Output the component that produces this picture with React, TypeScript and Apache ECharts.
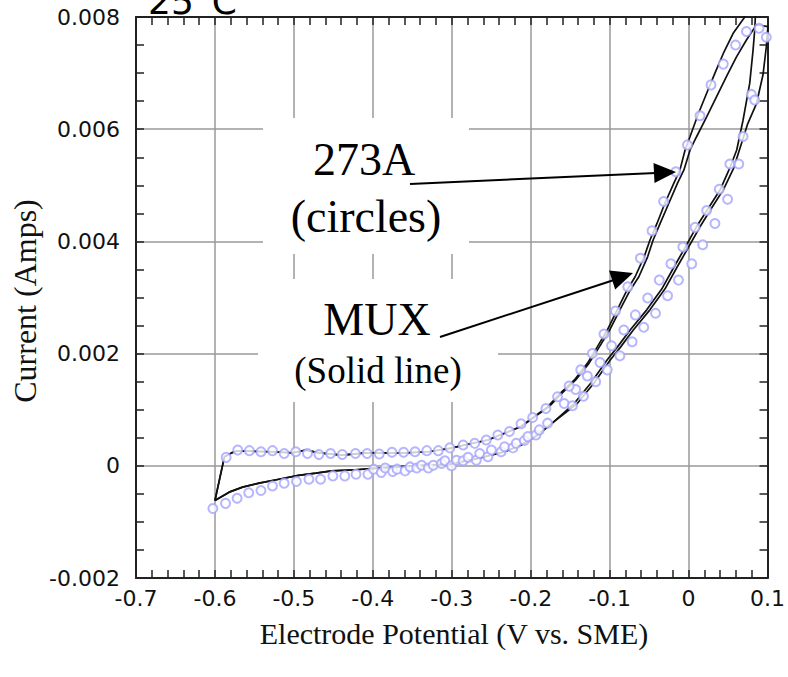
import React, { useEffect, useRef } from "react";
import * as echarts from "echarts";

// Axis extents and tick spacing
const xMin = -0.7;
const xMax = 0.1;
const xStep = 0.1;
const yMin = -0.002;
const yMax = 0.008;
const yStep = 0.002;

// MUX (solid line): potential (V vs. SME), current (A)
const muxForwardLow: number[][] = [
  [-0.6, -0.00062], [-0.582, -0.00047], [-0.565, -0.00038], [-0.544, -0.00031],
  [-0.519, -0.00024], [-0.494, -0.00017], [-0.472, -0.00013], [-0.452, -0.00009],
  [-0.422, -0.00007], [-0.393, -0.00004], [-0.351, 0.0], [-0.302, 0.00003],
  [-0.267, 0.00013], [-0.233, 0.00025], [-0.212, 0.00037], [-0.191, 0.00055],
  [-0.172, 0.00077],
];
const muxForwardHighA: number[][] = [
  [-0.145, 0.00111], [-0.124, 0.00147], [-0.103, 0.00189], [-0.09, 0.00212],
  [-0.074, 0.00242], [-0.053, 0.00278], [-0.034, 0.00315], [-0.019, 0.00353],
  [-0.004, 0.0039], [0.01, 0.00426], [0.025, 0.00459], [0.04, 0.00492],
  [0.052, 0.0053], [0.061, 0.00563], [0.069, 0.00616], [0.0775, 0.00682],
  [0.0817, 0.00741], [0.0838, 0.00777], [0.086, 0.0084],
];
const muxReverseHighA: number[][] = [
  [0.078, 0.0086], [0.0712, 0.008], [0.0565, 0.00771], [0.044, 0.00735],
  [0.0334, 0.007], [0.0229, 0.00664], [0.0125, 0.00628], [0.0019, 0.00587],
  [-0.0044, 0.00563], [-0.011, 0.00527], [-0.0186, 0.00504], [-0.03, 0.00468],
  [-0.04, 0.00432], [-0.049, 0.00402], [-0.0564, 0.00372], [-0.0677, 0.00337],
  [-0.078, 0.00313], [-0.0904, 0.00278], [-0.103, 0.00242], [-0.1156, 0.00212],
  [-0.128, 0.00183], [-0.1446, 0.00153], [-0.162, 0.0013], [-0.1786, 0.00105],
  [-0.1953, 0.00088],
];
const muxForwardHighB: number[][] = [
  [-0.141, 0.00111], [-0.12, 0.00147], [-0.099, 0.00189], [-0.086, 0.00212],
  [-0.07, 0.00242], [-0.049, 0.00278], [-0.03, 0.00315], [-0.015, 0.00353],
  [0.0, 0.0039], [0.0145, 0.00426], [0.029, 0.00459], [0.044, 0.00492],
  [0.057, 0.0053], [0.066, 0.0057], [0.075, 0.0061], [0.0859, 0.00645],
  [0.0943, 0.00697], [0.0985, 0.00747], [0.1005, 0.00783],
];
const muxReverseHighB: number[][] = [
  [0.0859, 0.00786], [0.0733, 0.00759], [0.0607, 0.00729], [0.0481, 0.00694],
  [0.0355, 0.00658], [0.0229, 0.00622], [0.0103, 0.00587], [0.0019, 0.00563],
  [-0.006, 0.00527], [-0.014, 0.00504], [-0.025, 0.00468], [-0.036, 0.00432],
  [-0.045, 0.00402], [-0.052, 0.00372], [-0.063, 0.00337], [-0.074, 0.00313],
  [-0.087, 0.00278], [-0.1, 0.00242], [-0.113, 0.00212], [-0.126, 0.00183],
  [-0.143, 0.00153], [-0.16, 0.0013], [-0.177, 0.00105], [-0.194, 0.00088],
];
const muxReverseLow: number[][] = [
  [-0.2122, 0.0007], [-0.2331, 0.00058], [-0.2542, 0.00046], [-0.2835, 0.00037],
  [-0.3024, 0.00031], [-0.3297, 0.00025], [-0.3591, 0.00023], [-0.38, 0.00023],
  [-0.409, 0.00023], [-0.439, 0.00019], [-0.468, 0.00023], [-0.4846, 0.00028],
  [-0.502, 0.00023], [-0.527, 0.00025], [-0.556, 0.00026], [-0.573, 0.00026],
  [-0.579, 0.00023], [-0.588, 0.00016], [-0.6, -0.00062],
];

// 273A (circles)
const p273Reverse: number[][] = [
  [-0.5858, 0.00015], [-0.5711, 0.00028], [-0.5564, 0.00027], [-0.5417, 0.00025],
  [-0.5271, 0.00027], [-0.5123, 0.00022], [-0.4976, 0.00025], [-0.4828, 0.00022],
  [-0.4683, 0.0002], [-0.4535, 0.00022], [-0.4387, 0.0002], [-0.422, 0.00022],
  [-0.4072, 0.00022], [-0.3919, 0.00021], [-0.3757, 0.00024], [-0.361, 0.00024],
  [-0.3465, 0.00025], [-0.3316, 0.00027], [-0.3171, 0.00027], [-0.3024, 0.00032],
  [-0.2856, 0.00037], [-0.2709, 0.0004], [-0.2563, 0.00046], [-0.2416, 0.00055],
  [-0.2269, 0.00061], [-0.2122, 0.00075], [-0.1975, 0.00086], [-0.1807, 0.00102],
  [-0.166, 0.00123], [-0.1513, 0.00142], [-0.1366, 0.00171], [-0.1219, 0.002],
  [-0.1072, 0.00235], [-0.0926, 0.00276], [-0.077, 0.00319], [-0.061, 0.0037],
  [-0.0463, 0.00419], [-0.0316, 0.00471], [-0.0161, 0.00524], [-0.0014, 0.00572],
  [0.0145, 0.00624], [0.0284, 0.00679], [0.044, 0.00716], [0.0595, 0.0075],
  [0.0733, 0.00774], [0.0893, 0.0078], [0.0985, 0.00764],
];
const p273ForwardLow: number[][] = [
  [-0.6026, -0.00076], [-0.5866, -0.00067], [-0.5719, -0.00058], [-0.5572, -0.00048],
  [-0.5417, -0.00044], [-0.5271, -0.00036], [-0.5123, -0.00031], [-0.4968, -0.00028],
  [-0.4809, -0.00024], [-0.4662, -0.00024], [-0.4506, -0.00018], [-0.4355, -0.00018],
  [-0.4213, -0.00015], [-0.4062, -0.00015], [-0.399, -0.00006], [-0.3893, -0.00012],
  [-0.3843, -0.00004], [-0.3748, -0.0001], [-0.3693, -0.00006], [-0.3591, -0.00009],
  [-0.3528, -0.00002], [-0.3444, -0.00004], [-0.3382, 0.00001], [-0.3297, -0.00004],
  [-0.3234, 0.00001], [-0.3129, 0.00004], [-0.3087, 0.00009], [-0.3003, 0.0],
  [-0.294, 0.0001], [-0.2856, 0.00009], [-0.2793, 0.00015], [-0.2689, 0.0001],
  [-0.2646, 0.00022], [-0.2542, 0.00016], [-0.2498, 0.00028], [-0.2374, 0.00025],
  [-0.2331, 0.00034], [-0.2225, 0.00032], [-0.2183, 0.0004], [-0.2079, 0.00045],
  [-0.2035, 0.00052], [-0.1933, 0.00055], [-0.1891, 0.00064], [-0.1786, 0.00076],
];
const p273ForwardHigh: number[][] = [
  [-0.1576, 0.00111], [-0.143, 0.00136], [-0.1282, 0.0016], [-0.1122, 0.00184],
  [-0.0976, 0.00214], [-0.082, 0.00242], [-0.0674, 0.00269], [-0.0518, 0.00299],
  [-0.0371, 0.00331], [-0.0224, 0.0036], [-0.0073, 0.0039], [0.0082, 0.00425],
  [0.0229, 0.00455], [0.0389, 0.00493], [0.0523, 0.00538], [0.069, 0.00587],
  [0.0796, 0.00662],
];
const p273ForwardHighLate: number[][] = [
  [-0.1471, 0.00107], [-0.1332, 0.00124], [-0.1177, 0.0015], [-0.103, 0.00171],
  [-0.087, 0.00196], [-0.0715, 0.00221], [-0.0568, 0.00247], [-0.0419, 0.00272],
  [-0.0266, 0.00303], [-0.0128, 0.00331], [0.004, 0.0036], [0.0179, 0.00394],
  [0.0334, 0.00432], [0.0494, 0.00475], [0.0636, 0.00538], [0.0838, 0.00652],
];

const tickFont = "'DejaVu Sans', Verdana, sans-serif";
const serifFont = "'Liberation Serif', 'Times New Roman', Times, serif";
const frameColor = "#222";
const gridColor = "#9a9a9a";

function fmtX(v: number): string {
  const r = Math.round(v * 10) / 10;
  return Math.abs(r) < 1e-9 ? "0" : r.toFixed(1);
}
function fmtY(v: number): string {
  const r = Math.round(v * 1000) / 1000;
  return Math.abs(r) < 1e-9 ? "0" : r.toFixed(3);
}

function axisBase(isX: boolean, position: string, main: boolean) {
  return {
    type: "value",
    position,
    min: isX ? xMin : yMin,
    max: isX ? xMax : yMax,
    interval: isX ? xStep : yStep,
    axisLine: { show: true, onZero: false, lineStyle: { color: frameColor, width: 2 } },
    axisTick: { show: true, inside: true, length: 8, lineStyle: { color: frameColor, width: 1.5 } },
    minorTick: {
      show: true,
      splitNumber: isX ? 5 : 4,
      length: 8,
      lineStyle: { color: frameColor, width: 1.5 },
    },
    splitLine: { show: main, lineStyle: { color: gridColor, width: 1.5 } },
    minorSplitLine: { show: false },
    axisLabel: main
      ? {
          show: true,
          fontSize: 22,
          fontFamily: tickFont,
          color: "#111",
          margin: isX ? 9 : 16,
          formatter: isX ? fmtX : fmtY,
        }
      : { show: false },
  };
}

export default function App() {
  const ref = useRef<HTMLDivElement>(null);

  useEffect(() => {
    if (!ref.current) return;
    const chart = echarts.init(ref.current, undefined, { renderer: "svg" });

    const cycleA = [...muxForwardLow, ...muxForwardHighA, ...muxReverseHighA, ...muxReverseLow];
    const cycleB = [...muxForwardLow, ...muxForwardHighB, ...muxReverseHighB, ...muxReverseLow];
    const circles = [...p273ForwardLow, ...p273ForwardHigh, ...p273ForwardHighLate, ...p273Reverse];

    const lineSeries = (data: number[][]) => ({
      name: "MUX",
      type: "line",
      data,
      showSymbol: false,
      symbol: "none",
      clip: true,
      smooth: false,
      lineStyle: { color: "#111", width: 1.7 },
      z: 3,
    });

    const whiteBox = (x: number, y: number, w: number, h: number) => ({
      type: "rect",
      shape: { x, y, width: w, height: h },
      style: { fill: "#fff" },
      z: 40,
    });
    const label = (text: string, x: number, y: number, size: number, font: string) => ({
      type: "text",
      x,
      y,
      style: {
        text,
        font: `${size}px ${font}`,
        fill: "#000",
        align: "center",
        verticalAlign: "middle",
      },
      z: 45,
    });

    chart.setOption({
      animation: false,
      backgroundColor: "#fff",
      grid: { left: 136, right: 17, top: 17, bottom: 99, containLabel: false },
      xAxis: [axisBase(true, "bottom", true), axisBase(true, "top", false)],
      yAxis: [axisBase(false, "left", true), axisBase(false, "right", false)],
      series: [
        lineSeries(cycleA),
        lineSeries(cycleB),
        {
          name: "273A",
          type: "scatter",
          data: circles,
          symbol: "emptyCircle",
          symbolSize: 9,
          clip: true,
          itemStyle: { color: "#a4a4ff", borderColor: "#a4a4ff", borderWidth: 1.2 },
          z: 4,
        },
      ],
      graphic: [
        whiteBox(263, 118, 206, 136),
        whiteBox(258, 279, 240, 123),
        label("273A", 364, 159.5, 46, serifFont),
        label("(circles)", 366, 216.5, 46, serifFont),
        label("MUX", 377, 319.5, 46, serifFont),
        label("(Solid line)", 378, 370.5, 37, serifFont),
        {
          type: "line",
          shape: { x1: 410, y1: 184, x2: 656, y2: 173 },
          style: { stroke: "#000", lineWidth: 2 },
          z: 46,
        },
        {
          type: "polygon",
          shape: { points: [[676, 172], [654.5, 183], [653.5, 163]] },
          style: { fill: "#000" },
          z: 46,
        },
        {
          type: "line",
          shape: { x1: 440, y1: 337, x2: 614, y2: 280 },
          style: { stroke: "#000", lineWidth: 2 },
          z: 46,
        },
        {
          type: "polygon",
          shape: { points: [[633, 273], [615.2, 289.4], [609, 270.4]] },
          style: { fill: "#000" },
          z: 46,
        },
        {
          type: "text",
          x: 148,
          y: 1,
          style: {
            text: "25°C",
            font: `36px ${tickFont}`,
            fill: "#000",
            align: "left",
            verticalAlign: "middle",
          },
          z: 45,
        },
        {
          type: "text",
          x: 25,
          y: 301,
          rotation: Math.PI / 2,
          style: {
            text: "Current (Amps)",
            font: `32px ${serifFont}`,
            fill: "#111",
            align: "center",
            verticalAlign: "middle",
          },
          z: 45,
        },
        {
          type: "text",
          x: 454,
          y: 633,
          style: {
            text: "Electrode Potential (V vs. SME)",
            font: `30px ${serifFont}`,
            fill: "#111",
            align: "center",
            verticalAlign: "middle",
          },
          z: 45,
        },
      ],
    });

    return () => chart.dispose();
  }, []);

  return (
    <div
      ref={ref}
      style={{ position: "absolute", left: 0, top: 0, width: 788, height: 677 }}
    />
  );
}
